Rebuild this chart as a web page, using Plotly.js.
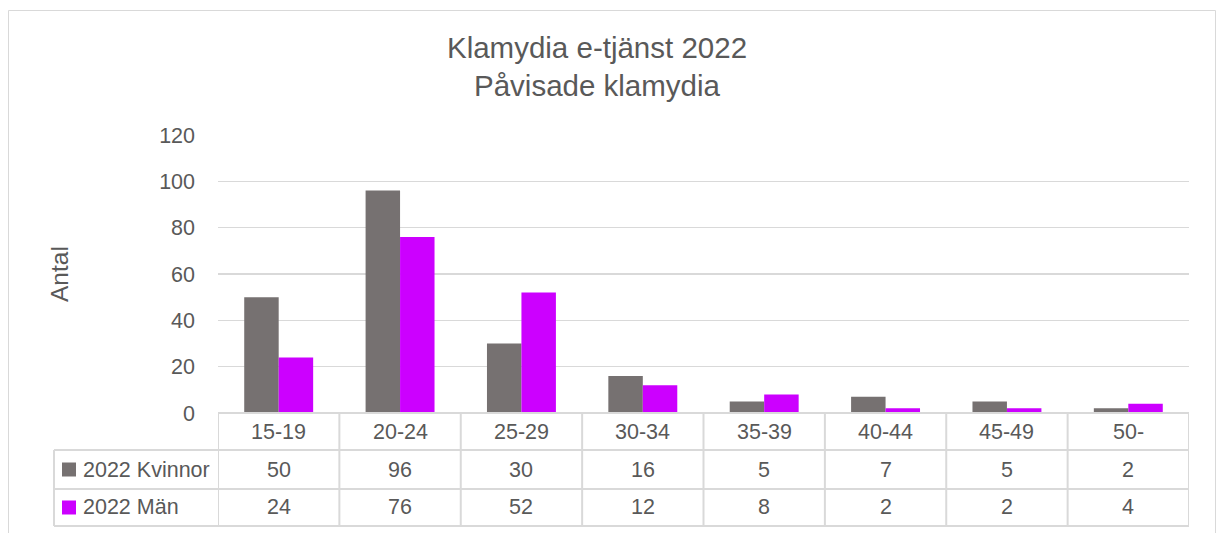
<!DOCTYPE html>
<html>
<head>
<meta charset="utf-8">
<script src="https://cdn.plot.ly/plotly-3.0.1.min.js"></script>
<style>html,body{margin:0;padding:0;background:#fff;}#chart{width:1217px;height:533px;}</style>
</head>
<body>
<div id="chart"></div>
<script>
const categories = ['15-19','20-24','25-29','30-34','35-39','40-44','45-49','50-'];
const seriesNames = ['2022 Kvinnor','2022 Män'];
const kvinnor = [50,96,30,16,5,7,5,2];
const man = [24,76,52,12,8,2,2,4];
const colors = ['#767171','#CC00FF'];

const W = 1217, H = 533;
const L = 218, R = 28, T = 135, B = 120;
const ph = H - T - B; // plot height in px
const pw = W - L - R;
const FONT = 'Liberation Sans, Arial, sans-serif';
const TXT = '#595959';
const GRID = '#d9d9d9';
const TS = 21.5; // table text size

// helpers to convert pixel offsets to paper coords
const py = (px) => (H - B - px) / ph;
const px = (x) => (x - L) / pw;

const traces = [
  {type:'bar', name:seriesNames[0], x:categories, y:kvinnor, marker:{color:colors[0], line:{width:0}}, hoverinfo:'skip'},
  {type:'bar', name:seriesNames[1], x:categories, y:man, marker:{color:colors[1], line:{width:0}}, hoverinfo:'skip'}
];

const rowY = [py(432), py(469.5), py(507.5)];
const lineY = [py(413), py(450), py(489), py(526)];
const annotations = [];
const shapes = [];

categories.forEach((c,i)=>{
  annotations.push({x:c, y:rowY[0], xref:'x', yref:'paper', text:c, showarrow:false, font:{family:FONT,size:TS,color:TXT}, xanchor:'center', yanchor:'middle'});
  annotations.push({x:c, y:rowY[1], xref:'x', yref:'paper', text:String(kvinnor[i]), showarrow:false, font:{family:FONT,size:TS,color:TXT}, xanchor:'center', yanchor:'middle'});
  annotations.push({x:c, y:rowY[2], xref:'x', yref:'paper', text:String(man[i]), showarrow:false, font:{family:FONT,size:TS,color:TXT}, xanchor:'center', yanchor:'middle'});
});
seriesNames.forEach((n,k)=>{
  annotations.push({x:px(81), y:rowY[k+1], xref:'paper', yref:'paper', text:n, showarrow:false, font:{family:FONT,size:TS,color:TXT}, xanchor:'left', yanchor:'middle'});
  const cy = [469.5,507.5][k];
  shapes.push({type:'rect', xref:'paper', yref:'paper', x0:px(62), x1:px(76), y0:py(cy-7), y1:py(cy+7), fillcolor:colors[k], line:{width:0}});
});
annotations.push({x:px(59), y:py(274), xref:'paper', yref:'paper', text:'Antal', textangle:-90, showarrow:false, font:{family:FONT,size:24.5,color:TXT}, xanchor:'center', yanchor:'middle'});

const lc = {color:GRID, width:2};
shapes.push({type:'line', xref:'x', yref:'paper', x0:-0.5, x1:categories.length-0.5, y0:lineY[0], y1:lineY[0], line:lc});
for (let r=1;r<4;r++){
  shapes.push({type:'line', xref:'paper', yref:'paper', x0:px(54), x1:1, y0:lineY[r], y1:lineY[r], line:lc});
}
for (let i=0;i<=categories.length;i++){
  shapes.push({type:'line', xref:'x', yref:'paper', x0:i-0.5, x1:i-0.5, y0:lineY[0], y1:lineY[3], line:lc});
}
shapes.push({type:'line', xref:'paper', yref:'paper', x0:px(54), x1:px(54), y0:lineY[1], y1:lineY[3], line:lc});
shapes.push({type:'rect', xref:'paper', yref:'paper', x0:px(8.5), x1:px(1215.5), y0:py(10.5), y1:py(560), line:{color:GRID, width:1}, fillcolor:'rgba(0,0,0,0)', layer:'below'});

const layout = {
  width:W, height:H,
  margin:{l:L, r:R, t:T, b:B, pad:0},
  paper_bgcolor:'#fff', plot_bgcolor:'#fff',
  showlegend:false,
  barmode:'group', bargap:0.432, bargroupgap:0,
  title:{text:'Klamydia e-tjänst 2022<br>Påvisade klamydia', font:{family:FONT,size:29.5,color:TXT}, x:597/W, xanchor:'center', xref:'container', y:1-58/H, yanchor:'middle', yref:'container'},
  xaxis:{type:'category', range:[-0.5, categories.length-0.5], showticklabels:false, ticks:'', showgrid:false, zeroline:false, showline:false, fixedrange:true},
  yaxis:{range:[0,120], dtick:20, tick0:0, showgrid:true, gridcolor:GRID, gridwidth:1.5, zeroline:false, showline:false, ticks:'', ticklabelstandoff:22, tickfont:{family:FONT,size:21.5,color:TXT}, fixedrange:true},
  annotations:annotations,
  shapes:shapes,
  font:{family:FONT, color:TXT}
};

Plotly.newPlot('chart', traces, layout, {displayModeBar:false, staticPlot:true});
</script>
</body>
</html>
